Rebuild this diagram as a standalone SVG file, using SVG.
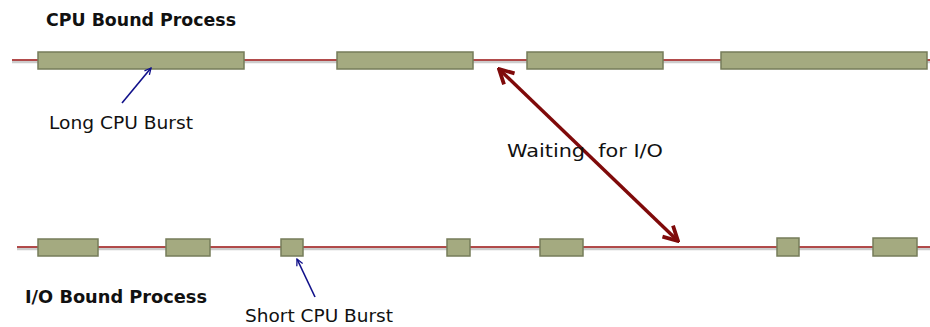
<svg xmlns="http://www.w3.org/2000/svg" width="930" height="327" viewBox="0 0 930 327">
<defs>
<style>
.tl{stroke:#980f0f;stroke-width:1.7;fill:none}
.sh{stroke:#cccccc;stroke-width:2.5;fill:none}
.bx{fill:#a4aa80;stroke:#767c5a;stroke-width:1.5}
.t{font-family:"DejaVu Sans","Liberation Sans",Arial,sans-serif;font-size:17px;fill:#111}
.b{font-weight:bold}
.blue{stroke:#10108a;stroke-width:1.6;fill:none}
.red{stroke:#7f0a0a;stroke-width:3.5;fill:none}
</style>
<marker id="ab" viewBox="0 0 10 10" refX="9" refY="5" markerWidth="8" markerHeight="8" orient="auto-start-reverse" markerUnits="userSpaceOnUse">
<path d="M1,1 L9,5 L1,9" stroke="#10108a" stroke-width="1.6" fill="none"/>
</marker>
<marker id="ar" viewBox="0 0 10 10" refX="9" refY="5" markerWidth="19" markerHeight="19" orient="auto-start-reverse" markerUnits="userSpaceOnUse">
<path d="M1.5,1 L9,5 L1.5,9" stroke="#7f0a0a" stroke-width="2" fill="none" stroke-linejoin="miter"/>
</marker>
</defs>
<rect width="930" height="327" fill="#fff"/>
<g id="timelines">
<line class="sh" x1="12" y1="62" x2="930" y2="62"/>
<line class="tl" x1="12" y1="60" x2="930" y2="60"/>
<line class="sh" x1="17" y1="249" x2="930" y2="249"/>
<line class="tl" x1="17" y1="247" x2="930" y2="247"/>
</g>
<g id="cpu-bursts">
<rect class="bx" x="38" y="52" width="206" height="17"/>
<rect class="bx" x="337" y="52" width="136" height="17"/>
<rect class="bx" x="527" y="52" width="136" height="17"/>
<rect class="bx" x="721" y="52" width="206" height="17"/>
</g>
<g id="io-bursts">
<rect class="bx" x="38" y="239" width="60" height="17"/>
<rect class="bx" x="166" y="239" width="44" height="17"/>
<rect class="bx" x="281" y="239" width="22" height="17"/>
<rect class="bx" x="447" y="239" width="23" height="17"/>
<rect class="bx" x="540" y="239" width="43" height="17"/>
<rect class="bx" x="777" y="238" width="22" height="18"/>
<rect class="bx" x="873" y="238" width="44" height="18"/>
</g>
<g id="connectors">
<line class="blue" x1="122" y1="103" x2="151" y2="68" marker-end="url(#ab)"/>
<line class="blue" x1="315" y1="297" x2="297" y2="259" marker-end="url(#ab)"/>
<line class="red" x1="499" y1="69" x2="678" y2="241" marker-start="url(#ar)" marker-end="url(#ar)"/>
</g>
<g id="labels">
<text class="t b" x="46" y="26" textLength="190" lengthAdjust="spacingAndGlyphs">CPU Bound Process</text>
<text class="t" x="49" y="129" textLength="144" lengthAdjust="spacingAndGlyphs">Long CPU Burst</text>
<text class="t" x="507" y="157" xml:space="preserve" textLength="156" lengthAdjust="spacingAndGlyphs">Waiting  for I/O</text>
<text class="t b" x="25" y="303" textLength="182" lengthAdjust="spacingAndGlyphs">I/O Bound Process</text>
<text class="t" x="245" y="322" textLength="148" lengthAdjust="spacingAndGlyphs">Short CPU Burst</text>
</g>
</svg>
